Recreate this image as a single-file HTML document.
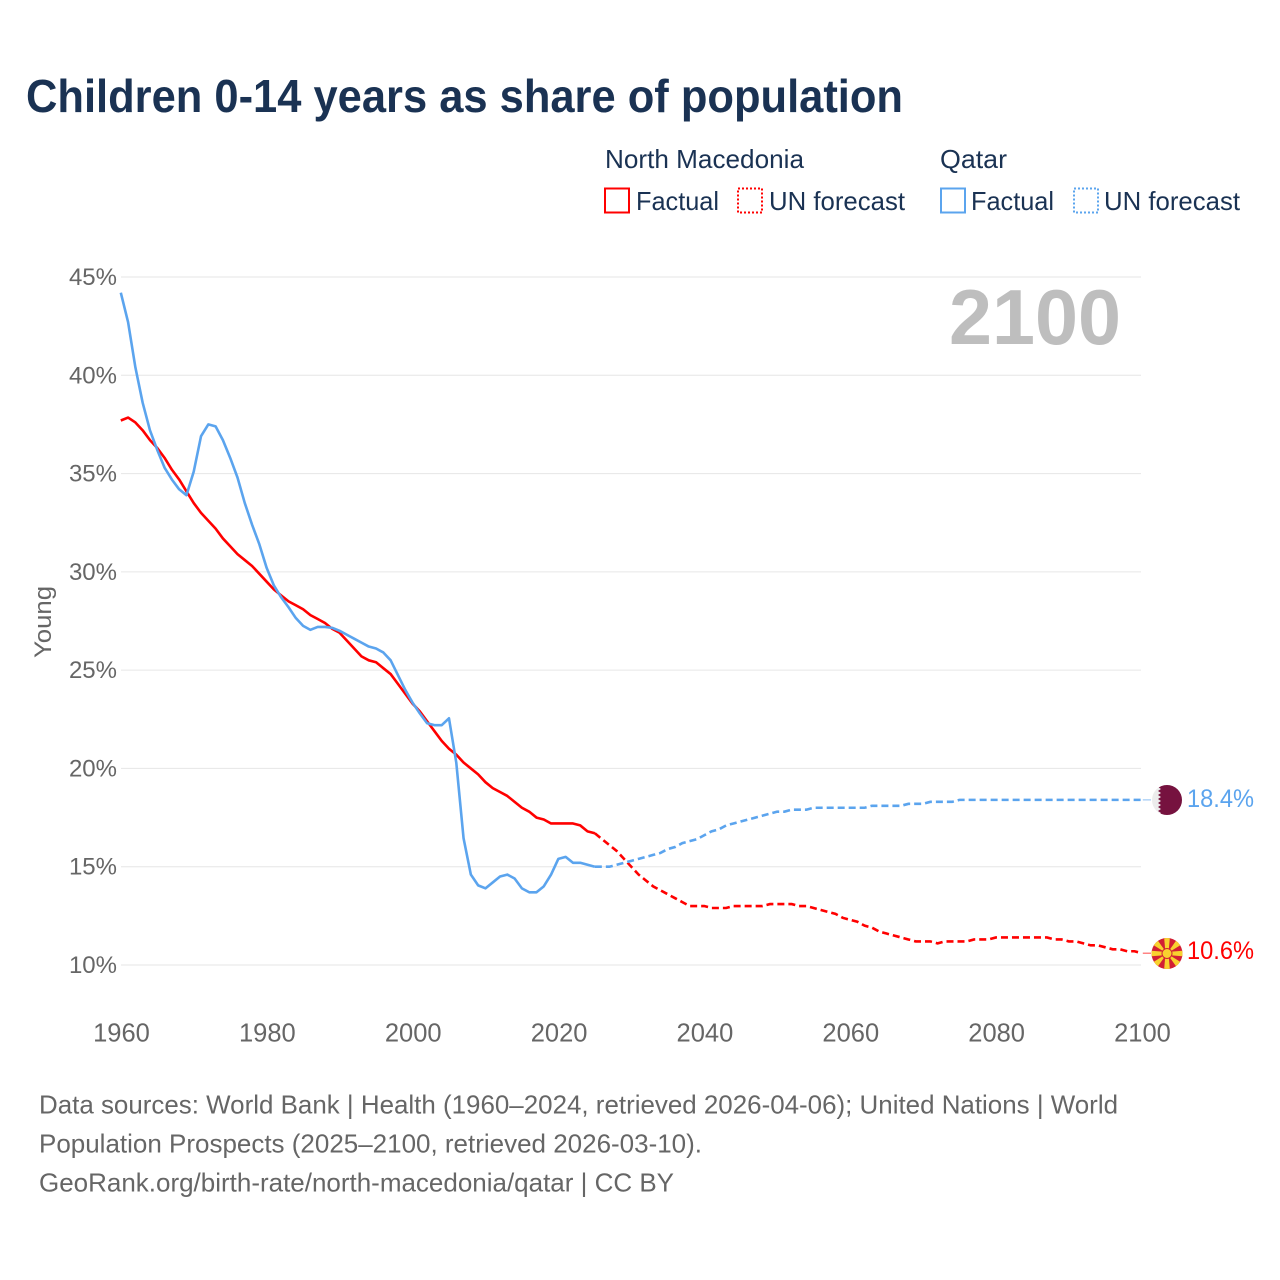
<!DOCTYPE html>
<html lang="en">
<head>
<meta charset="utf-8">
<title>Children 0-14 years as share of population</title>
<style>
html,body{margin:0;padding:0;background:#fff;width:1280px;height:1280px;overflow:hidden}
svg{display:block}
text{font-family:"Liberation Sans",sans-serif}
</style>
</head>
<body>
<svg id="chart" width="1280" height="1280" viewBox="0 0 1280 1280" xmlns="http://www.w3.org/2000/svg">
<defs>
<clipPath id="clip-qa"><circle cx="1167" cy="800" r="15"/></clipPath>
<clipPath id="clip-mk"><circle cx="1167" cy="953.5" r="15.5"/></clipPath>
</defs>
<text x="26" y="112" font-size="46" font-weight="700" fill="#1a3253" textLength="877" lengthAdjust="spacingAndGlyphs">Children 0-14 years as share of population</text>

<g font-size="26" fill="#1a3253">
<text x="605" y="168" textLength="199" lengthAdjust="spacingAndGlyphs">North Macedonia</text>
<text x="940" y="168" textLength="67" lengthAdjust="spacingAndGlyphs">Qatar</text>
<rect x="605" y="188.5" width="24" height="24" fill="none" stroke="#ff0000" stroke-width="2"/>
<text x="636" y="210" textLength="83" lengthAdjust="spacingAndGlyphs">Factual</text>
<rect x="738" y="188.5" width="24" height="24" fill="none" stroke="#ff0000" stroke-width="2" stroke-dasharray="2 2"/>
<text x="769" y="210" textLength="136" lengthAdjust="spacingAndGlyphs">UN forecast</text>
<rect x="941" y="188.5" width="24" height="24" fill="none" stroke="#5ba4ee" stroke-width="2"/>
<text x="971" y="210" textLength="83" lengthAdjust="spacingAndGlyphs">Factual</text>
<rect x="1074" y="188.5" width="24" height="24" fill="none" stroke="#5ba4ee" stroke-width="2" stroke-dasharray="2 2"/>
<text x="1104" y="210" textLength="136" lengthAdjust="spacingAndGlyphs">UN forecast</text>
</g>

<g id="grid"></g>
<g id="yticks"></g>
<g id="xticks"></g>
<text x="949" y="344" font-size="78" font-weight="700" fill="#bebebe" textLength="172" lengthAdjust="spacingAndGlyphs">2100</text>
<text transform="translate(51,622) rotate(-90)" text-anchor="middle" font-size="24" fill="#666666" textLength="72" lengthAdjust="spacingAndGlyphs">Young</text>
<g id="series"></g>

<g clip-path="url(#clip-qa)">
<rect x="1150" y="783" width="34" height="34" fill="#ececec"/>
<polygon fill="#76123f" points="1184,783 1158,783 1161,785 1158,787 1161,789 1158,791 1161,793 1158,795 1161,797 1158,799 1161,801 1158,803 1161,805 1158,807 1161,809 1158,811 1161,813 1158,815 1161,817 1184,817"/>
</g>
<g clip-path="url(#clip-mk)">
<rect x="1150" y="936" width="34" height="36" fill="#d21f34"/>
<g fill="#f8d12f">
<polygon points="1165.5,953.5 1164,936 1170,936 1168.5,953.5"/>
<polygon points="1165.5,953.5 1164,971 1170,971 1168.5,953.5"/>
<polygon points="1167,952 1149,950.5 1149,956.5 1167,955"/>
<polygon points="1167,952 1185,950.5 1185,956.5 1167,955"/>
<polygon points="1167,953.5 1151,943.5 1156,938"/>
<polygon points="1167,953.5 1183,943.5 1178,938"/>
<polygon points="1167,953.5 1151,963.5 1156,969"/>
<polygon points="1167,953.5 1183,963.5 1178,969"/>
<circle cx="1167" cy="953.5" r="5" stroke="#d21f34" stroke-width="1"/>
</g>
</g>
<text x="1187" y="807" font-size="25" fill="#5ba4ee" textLength="67" lengthAdjust="spacingAndGlyphs">18.4%</text>
<text x="1187" y="959" font-size="25" fill="#ff0000" textLength="67" lengthAdjust="spacingAndGlyphs">10.6%</text>

<g font-size="26" fill="#666666">
<text x="39" y="1113.5" textLength="1079" lengthAdjust="spacingAndGlyphs">Data sources: World Bank | Health (1960–2024, retrieved 2026-04-06); United Nations | World</text>
<text x="39" y="1152.5" textLength="663" lengthAdjust="spacingAndGlyphs">Population Prospects (2025–2100, retrieved 2026-03-10).</text>
<text x="39" y="1191.5" textLength="635" lengthAdjust="spacingAndGlyphs">GeoRank.org/birth-rate/north-macedonia/qatar | CC BY</text>
</g>
</svg>
<script>
var startYear = 1960;
var lastFactualYear = 2025;
var yTickValues = [10, 15, 20, 25, 30, 35, 40, 45];
var yTickLabels = ["10%", "15%", "20%", "25%", "30%", "35%", "40%", "45%"];
var xTickYears = [1960, 1980, 2000, 2020, 2040, 2060, 2080, 2100];
var macedoniaValues = [
37.7,37.85,37.6,37.2,36.7,36.3,35.8,35.2,34.7,34.1,
33.5,33.0,32.6,32.2,31.7,31.3,30.9,30.6,30.3,29.9,
29.5,29.1,28.8,28.5,28.3,28.1,27.8,27.6,27.4,27.1,
26.9,26.5,26.1,25.7,25.5,25.4,25.1,24.8,24.3,23.8,
23.3,22.9,22.4,21.9,21.4,21.0,20.7,20.3,20.0,19.7,
19.3,19.0,18.8,18.6,18.3,18.0,17.8,17.5,17.4,17.2,
17.2,17.2,17.2,17.1,16.8,16.7,16.4,16.1,15.8,15.4,
15.0,14.6,14.3,14.0,13.8,13.6,13.4,13.2,13.0,13.0,
13.0,12.9,12.9,12.9,13.0,13.0,13.0,13.0,13.0,13.1,
13.1,13.1,13.1,13.0,13.0,12.9,12.8,12.7,12.6,12.4,
12.3,12.2,12.0,11.9,11.7,11.6,11.5,11.4,11.3,11.2,
11.2,11.2,11.1,11.2,11.2,11.2,11.2,11.3,11.3,11.3,
11.4,11.4,11.4,11.4,11.4,11.4,11.4,11.4,11.3,11.3,
11.2,11.2,11.1,11.0,11.0,10.9,10.8,10.8,10.7,10.7,
10.6];
var qatarValues = [
44.2,42.7,40.4,38.6,37.2,36.2,35.3,34.7,34.2,33.9,
35.1,36.9,37.5,37.4,36.7,35.8,34.8,33.5,32.4,31.4,
30.2,29.3,28.7,28.2,27.65,27.25,27.05,27.2,27.2,27.15,
27.0,26.8,26.6,26.4,26.2,26.1,25.9,25.5,24.75,24.0,
23.35,22.8,22.3,22.2,22.2,22.55,20.3,16.45,14.6,14.05,
13.9,14.2,14.5,14.6,14.4,13.9,13.7,13.7,14.0,14.6,
15.4,15.5,15.2,15.2,15.1,15.0,15.0,15.0,15.1,15.2,
15.3,15.4,15.5,15.6,15.7,15.9,16.0,16.2,16.3,16.4,
16.6,16.8,16.9,17.1,17.2,17.3,17.4,17.5,17.6,17.7,
17.8,17.8,17.9,17.9,17.9,18.0,18.0,18.0,18.0,18.0,
18.0,18.0,18.0,18.1,18.1,18.1,18.1,18.1,18.2,18.2,
18.2,18.3,18.3,18.3,18.3,18.4,18.4,18.4,18.4,18.4,
18.4,18.4,18.4,18.4,18.4,18.4,18.4,18.4,18.4,18.4,
18.4,18.4,18.4,18.4,18.4,18.4,18.4,18.4,18.4,18.4,
18.4];

var NS = "http://www.w3.org/2000/svg";
function xScale(year) { return 120.8 + (year - 1960) * (1021 / 140); }
function yScale(v) { return 965 - (v - 10) * (688 / 35); }

var gridG = document.getElementById("grid");
var yG = document.getElementById("yticks");
var xG = document.getElementById("xticks");
var seriesG = document.getElementById("series");

yTickValues.forEach(function (v, i) {
  var line = document.createElementNS(NS, "line");
  
  
  line.setAttribute("x1", 121);
  line.setAttribute("x2", 1141);
  line.setAttribute("y1", yScale(v));
  line.setAttribute("y2", yScale(v));
  line.setAttribute("stroke", "#e6e6e6");
  line.setAttribute("stroke-width", "1");
  gridG.appendChild(line);
  var t = document.createElementNS(NS, "text");
  
  
  t.setAttribute("x", 117);
  t.setAttribute("y", yScale(v) + 8);
  t.setAttribute("text-anchor", "end");
  t.setAttribute("font-size", "24");
  t.setAttribute("fill", "#666666");
  t.textContent = yTickLabels[i];
  yG.appendChild(t);
});

xTickYears.forEach(function (y) {
  var t = document.createElementNS(NS, "text");
  
  
  t.setAttribute("x", xScale(y) + 0.7);
  t.setAttribute("y", 1041.5);
  t.setAttribute("text-anchor", "middle");
  t.setAttribute("font-size", "25.5");
  t.setAttribute("fill", "#666666");
  t.textContent = String(y);
  xG.appendChild(t);
});

function points(values, from, to) {
  var out = [];
  for (var i = 0; i < values.length; i++) {
    var yr = startYear + i;
    if (yr >= from && yr <= to) {
      out.push(xScale(yr).toFixed(2) + "," + yScale(values[i]).toFixed(2));
    }
  }
  return out.join(" ");
}

function drawSeries(values, color, key, flagX) {
  var lastYear = startYear + values.length - 1;
  var lastV = values[values.length - 1];

  var solid = document.createElementNS(NS, "polyline");
  
  
  solid.setAttribute("points", points(values, startYear, lastFactualYear));
  solid.setAttribute("fill", "none");
  solid.setAttribute("stroke", color);
  solid.setAttribute("stroke-width", "2.6");
  solid.setAttribute("stroke-linejoin", "round");
  seriesG.appendChild(solid);

  var dash = document.createElementNS(NS, "polyline");
  
  
  dash.setAttribute("points", points(values, lastFactualYear, lastYear));
  dash.setAttribute("fill", "none");
  dash.setAttribute("stroke", color);
  dash.setAttribute("stroke-width", "2.6");
  dash.setAttribute("stroke-dasharray", "7 4");
  seriesG.appendChild(dash);

  var leader = document.createElementNS(NS, "line");
  
  
  leader.setAttribute("x1", xScale(lastYear) + 1);
  leader.setAttribute("x2", flagX);
  leader.setAttribute("y1", yScale(lastV));
  leader.setAttribute("y2", yScale(lastV));
  leader.setAttribute("stroke", color);
  leader.setAttribute("stroke-width", "1.2");
  leader.setAttribute("opacity", "0.6");
  seriesG.appendChild(leader);
}

drawSeries(macedoniaValues, "#ff0000", "north-macedonia", 1151);
drawSeries(qatarValues, "#5ba4ee", "qatar", 1151);
</script>
</body>
</html>
